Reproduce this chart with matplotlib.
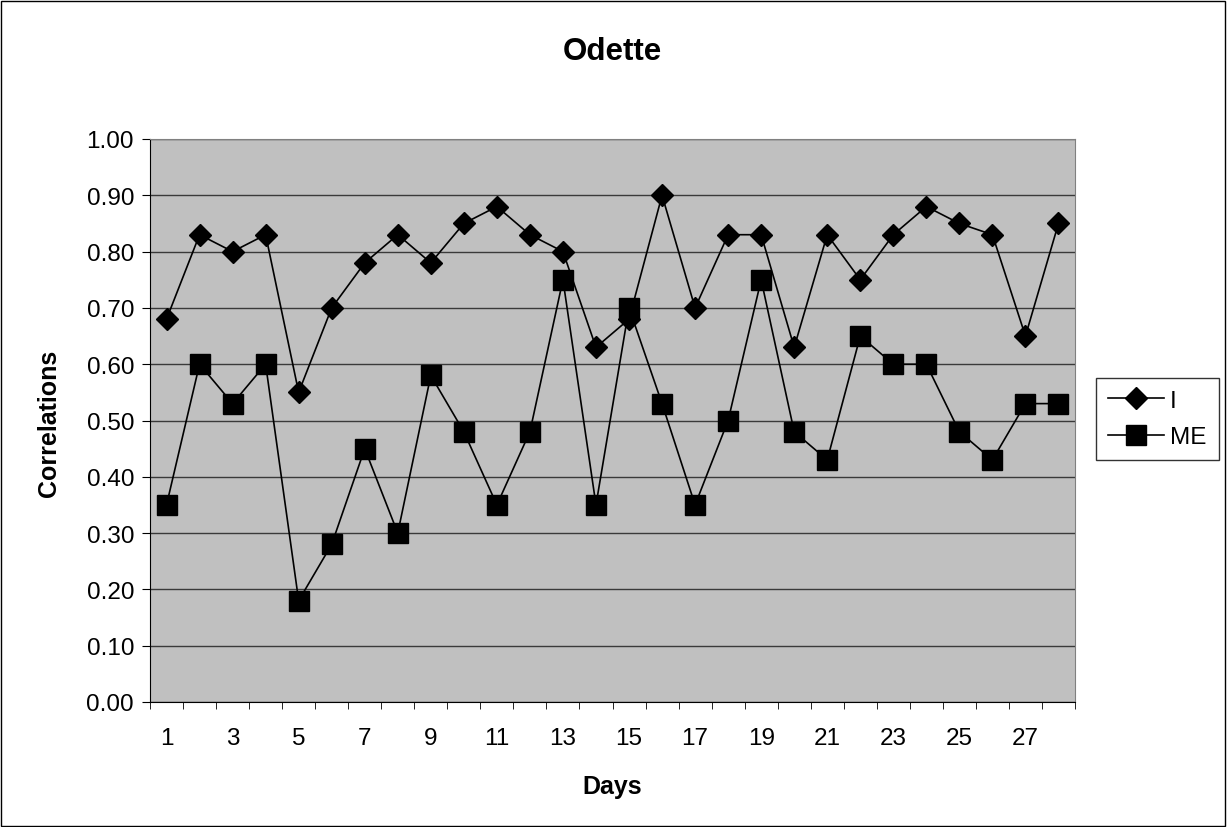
import numpy as np
import matplotlib.pyplot as plt
from matplotlib.patches import Rectangle

plt.rcParams['font.family'] = ['Liberation Sans', 'DejaVu Sans']

days = np.arange(1, 29)
i_vals = [0.68, 0.83, 0.80, 0.83, 0.55, 0.70, 0.78, 0.83, 0.78, 0.85,
          0.88, 0.83, 0.80, 0.63, 0.68, 0.90, 0.70, 0.83, 0.83, 0.63,
          0.83, 0.75, 0.83, 0.88, 0.85, 0.83, 0.65, 0.85]
me_vals = [0.35, 0.60, 0.53, 0.60, 0.18, 0.28, 0.45, 0.30, 0.58, 0.48,
           0.35, 0.48, 0.75, 0.35, 0.70, 0.53, 0.35, 0.50, 0.75, 0.48,
           0.43, 0.65, 0.60, 0.60, 0.48, 0.43, 0.53, 0.53]
x_labels = [str(d) for d in range(1, 29, 2)]
y_ticks = np.arange(0, 1.01, 0.1)

fig = plt.figure(figsize=(12.27, 8.28), dpi=100)
ax = fig.add_axes([150 / 1227, 1 - 703 / 828, 925 / 1227, 563 / 828])
ax.set_facecolor('#c0c0c0')

ax.plot(days, i_vals, color='black', lw=1.2, marker='D', markersize=11, label='I', zorder=3)
ax.plot(days, me_vals, color='black', lw=1.2, marker='s', markersize=14, label='ME', zorder=3)

ax.set_xlim(0.5, 28.5)
ax.set_ylim(0, 1.0)
ax.set_yticks(y_ticks)
ax.set_yticklabels(['%.2f' % v for v in y_ticks])
ax.yaxis.grid(True, color='#3a3a3a', lw=1)
ax.set_axisbelow(True)

# category axis: labels under odd days, ticks between categories
ax.set_xticks(np.arange(1, 29, 2))
ax.set_xticklabels(x_labels)
ax.set_xticks(np.arange(0.5, 29, 1), minor=True)
ax.tick_params(axis='x', which='major', length=0, pad=18, labelsize=17.5)
ax.tick_params(axis='x', which='minor', length=5, direction='out', color='black')
ax.tick_params(axis='y', length=5.5, direction='out', labelsize=17.5, pad=6)

for side in ['top', 'right']:
    ax.spines[side].set_color('#808080')
for side in ['left', 'bottom']:
    ax.spines[side].set_color('black')

fig.text(612 / 1227, 1 - 52 / 828, 'Odette', fontsize=22.5, fontweight='bold',
         ha='center', va='center')
fig.text(612 / 1227, 1 - 787 / 828, 'Days', fontsize=18, fontweight='bold',
         ha='center', va='center')
fig.text(49 / 1227, 1 - 423 / 828, 'Correlations', fontsize=18, fontweight='bold',
         ha='center', va='center', rotation=90)

leg = fig.legend(loc='center left', bbox_to_anchor=(1096 / 1227, 1 - 420 / 828),
                 fontsize=17.5, frameon=True, fancybox=False, edgecolor='black',
                 handlelength=2.3, borderpad=0.5, labelspacing=0.6,
                 handletextpad=0.25, borderaxespad=0)
leg.get_frame().set_linewidth(1)

fig.patches.append(Rectangle((0.001, 0.001), 0.997, 0.997, transform=fig.transFigure,
                             fill=False, edgecolor='black', lw=1))

fig.savefig('out.png', dpi=100)
